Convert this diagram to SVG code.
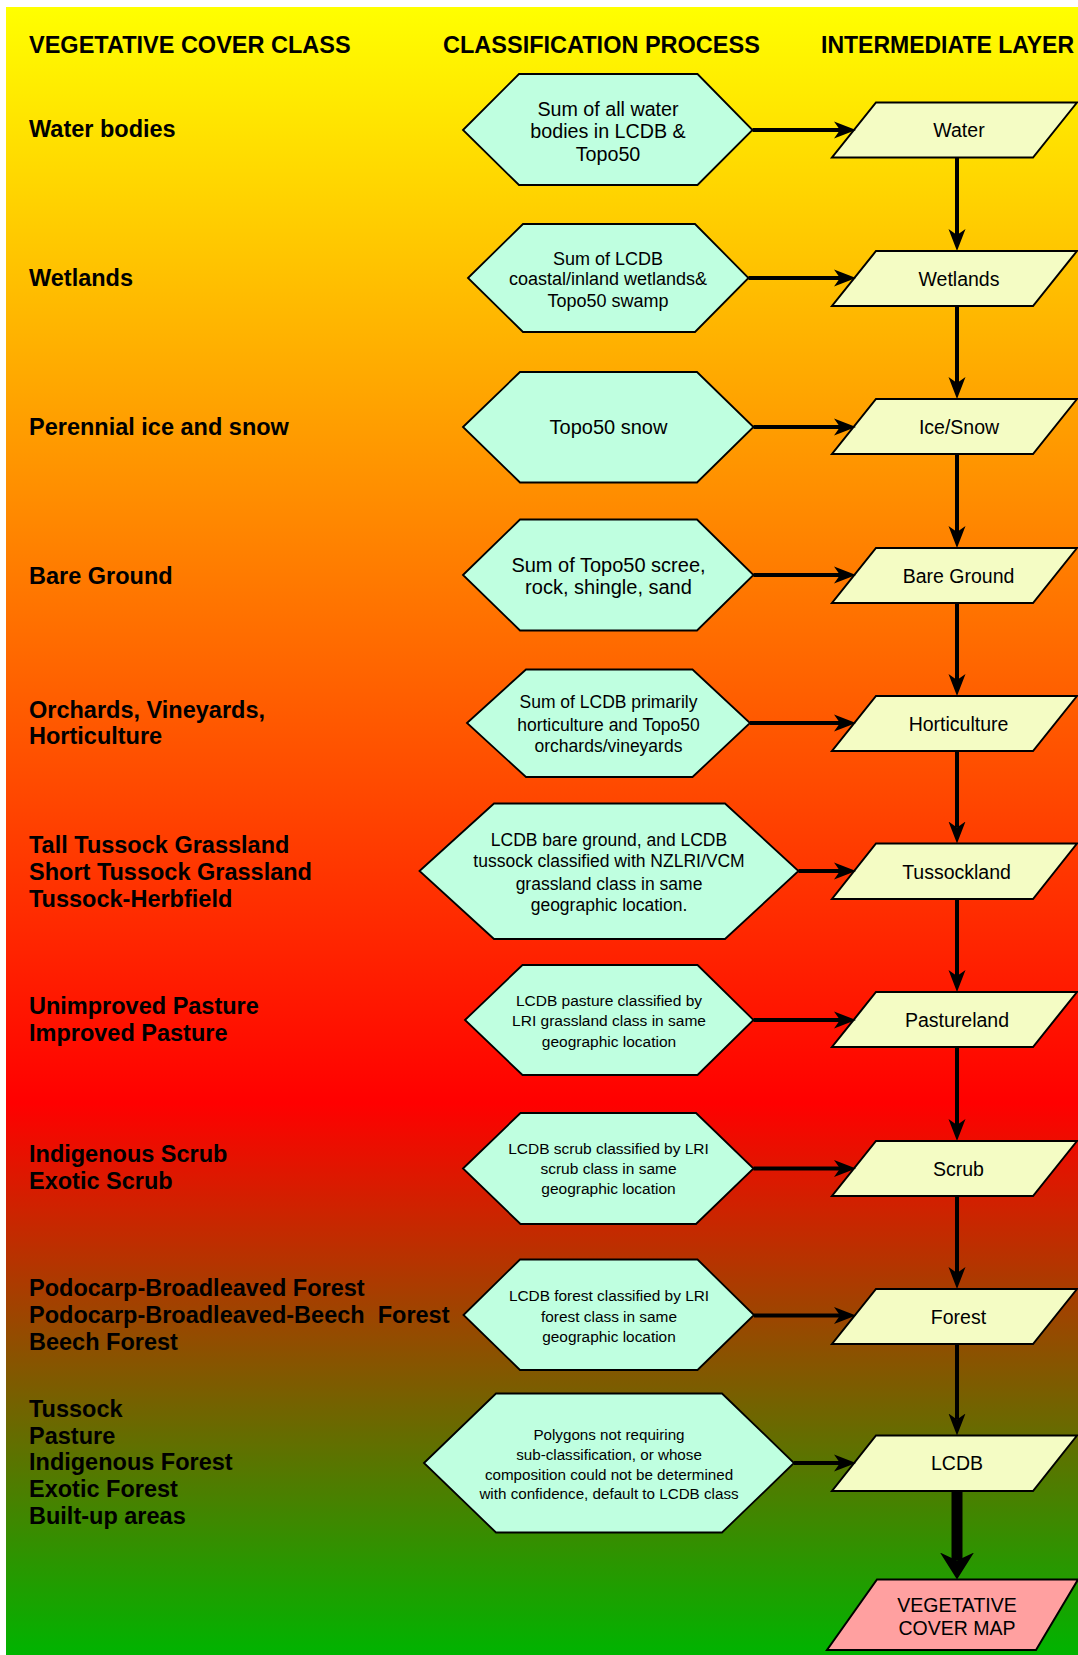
<svg xmlns="http://www.w3.org/2000/svg" width="1078" height="1655" viewBox="0 0 1078 1655">
<defs>
<linearGradient id="bg" x1="0" y1="7" x2="0" y2="1655" gradientUnits="userSpaceOnUse">
<stop offset="0" stop-color="#FFFF00"/>
<stop offset="0.665" stop-color="#FF0000"/>
<stop offset="1" stop-color="#00B400"/>
</linearGradient>
<marker id="ah" markerUnits="userSpaceOnUse" markerWidth="24" markerHeight="20" viewBox="0 0 24 20" refX="6" refY="10" orient="auto">
<path d="M0,1.5 L22,10 L0,18.5 L6,10 Z" fill="#000"/>
</marker>
<marker id="bh" markerUnits="userSpaceOnUse" markerWidth="28" markerHeight="36" viewBox="0 0 28 36" refX="8" refY="18" orient="auto">
<path d="M0,1 L27,18 L0,35 L8,18 Z" fill="#000"/>
</marker>
<style>
.hdr,.lbl{font-family:"Liberation Sans",Arial,sans-serif;font-weight:bold;font-size:23.5px;fill:#000}
.hex{fill:#BFFFE0;stroke:#000;stroke-width:1.8}
.par{fill:#F4FCC4;stroke:#000;stroke-width:2}
.out{fill:#FFA0A0;stroke:#000;stroke-width:2}
.ht,.pt{font-family:"Liberation Sans",Arial,sans-serif;text-anchor:middle;fill:#000}
.pt{font-size:19.5px}
.con{stroke:#000;stroke-width:4;fill:none;marker-end:url(#ah)}
.big{stroke:#000;stroke-width:11;fill:none;marker-end:url(#bh)}
</style>
</defs>
<rect x="0" y="0" width="1078" height="1655" fill="#FFFFFF"/>
<rect x="6" y="7" width="1072" height="1648" fill="url(#bg)"/>

<g id="headers">
<text class="hdr" x="29" y="53">VEGETATIVE COVER CLASS</text>
<text class="hdr" x="443" y="53">CLASSIFICATION PROCESS</text>
<text class="hdr" x="821" y="53" style="font-size:23px">INTERMEDIATE LAYER</text>
</g>

<g id="classes">
<text class="lbl" x="29" y="137">Water bodies</text>
<text class="lbl" x="29" y="286">Wetlands</text>
<text class="lbl" x="29" y="435">Perennial ice and snow</text>
<text class="lbl" x="29" y="583.5">Bare Ground</text>
<text class="lbl" x="29" y="717.5">Orchards, Vineyards,<tspan x="29" y="744">Horticulture</tspan></text>
<text class="lbl" x="29" y="853">Tall Tussock Grassland<tspan x="29" y="880">Short Tussock Grassland</tspan><tspan x="29" y="907">Tussock-Herbfield</tspan></text>
<text class="lbl" x="29" y="1014">Unimproved Pasture<tspan x="29" y="1040.5">Improved Pasture</tspan></text>
<text class="lbl" x="29" y="1162">Indigenous Scrub<tspan x="29" y="1188.5">Exotic Scrub</tspan></text>
<text class="lbl" x="29" y="1296" xml:space="preserve">Podocarp-Broadleaved Forest<tspan x="29" y="1323">Podocarp-Broadleaved-Beech  Forest</tspan><tspan x="29" y="1350">Beech Forest</tspan></text>
<text class="lbl" x="29" y="1417">Tussock<tspan x="29" y="1443.5">Pasture</tspan><tspan x="29" y="1470">Indigenous Forest</tspan><tspan x="29" y="1497">Exotic Forest</tspan><tspan x="29" y="1524">Built-up areas</tspan></text>
</g>

<g id="proc-water">
<polygon class="hex" points="463,130 519,74 697.5,74 752.5,130 697.5,185 519,185"/>
<text class="ht" font-size="19.7" x="608" y="115.5">Sum of all water<tspan x="608" y="138">bodies in LCDB &amp;</tspan><tspan x="608" y="160.5">Topo50</tspan></text>
</g>
<g id="proc-wetlands">
<polygon class="hex" points="468,278 523,224 695,224 748.5,278 695,332 523,332"/>
<text class="ht" font-size="18" x="608" y="264.5">Sum of LCDB<tspan x="608" y="285">coastal/inland wetlands&amp;</tspan><tspan x="608" y="306.5">Topo50 swamp</tspan></text>
</g>
<g id="proc-ice">
<polygon class="hex" points="463,427 520,372 697,372 753.5,427 697,482.5 520,482.5"/>
<text class="ht" font-size="20" x="608.5" y="434">Topo50 snow</text>
</g>
<g id="proc-bare">
<polygon class="hex" points="463,575 520,519.5 697,519.5 753.5,575 697,630.5 520,630.5"/>
<text class="ht" font-size="20" x="608.5" y="572">Sum of Topo50 scree,<tspan x="608.5" y="594">rock, shingle, sand</tspan></text>
</g>
<g id="proc-horti">
<polygon class="hex" points="467,723 526,669.5 692.5,669.5 750,723 692.5,777 526,777"/>
<text class="ht" font-size="17.5" x="608.5" y="708">Sum of LCDB primarily<tspan x="608.5" y="730.5">horticulture and Topo50</tspan><tspan x="608.5" y="751.5">orchards/vineyards</tspan></text>
</g>
<g id="proc-tussock">
<polygon class="hex" points="419.5,871 494,803.5 725,803.5 798.5,871 725,939 494,939"/>
<text class="ht" font-size="17.5" x="609" y="846">LCDB bare ground, and LCDB<tspan x="609" y="867">tussock classified with NZLRI/VCM</tspan><tspan x="609" y="889.5">grassland class in same</tspan><tspan x="609" y="910.5">geographic location.</tspan></text>
</g>
<g id="proc-pasture">
<polygon class="hex" points="465,1020 522.5,965 697.5,965 753.5,1020 697.5,1075 522.5,1075"/>
<text class="ht" font-size="15.5" x="609" y="1006">LCDB pasture classified by<tspan x="609" y="1026">LRI grassland class in same</tspan><tspan x="609" y="1046.5">geographic location</tspan></text>
</g>
<g id="proc-scrub">
<polygon class="hex" points="463,1168.5 520.5,1113 696,1113 753.5,1168.5 696,1224 520.5,1224"/>
<text class="ht" font-size="15.5" x="608.5" y="1154">LCDB scrub classified by LRI<tspan x="608.5" y="1174">scrub class in same</tspan><tspan x="608.5" y="1193.5">geographic location</tspan></text>
</g>
<g id="proc-forest">
<polygon class="hex" points="463.5,1315 520,1259.5 697.5,1259.5 754,1315 697.5,1370 520,1370"/>
<text class="ht" font-size="15.4" x="609" y="1301">LCDB forest classified by LRI<tspan x="609" y="1321.5">forest class in same</tspan><tspan x="609" y="1341.5">geographic location</tspan></text>
</g>
<g id="proc-lcdb">
<polygon class="hex" points="424,1463 496,1393.5 722,1393.5 794,1463 722,1532.5 496,1532.5"/>
<text class="ht" font-size="15.2" x="609" y="1439.5">Polygons not requiring<tspan x="609" y="1459.5">sub-classification, or whose</tspan><tspan x="609" y="1479.5">composition could not be determined</tspan><tspan x="609" y="1499">with confidence, default to LCDB class</tspan></text>
</g>

<g id="layer-water"><polygon class="par" points="876,102.5 1077,102.5 1033,157.5 832,157.5"/><text class="pt" x="959" y="137">Water</text></g>
<g id="layer-wetlands"><polygon class="par" points="876,251 1077,251 1033,306 832,306"/><text class="pt" x="959" y="285.5">Wetlands</text></g>
<g id="layer-ice"><polygon class="par" points="876,399 1077,399 1033,454 832,454"/><text class="pt" x="959" y="433.5">Ice/Snow</text></g>
<g id="layer-bare"><polygon class="par" points="876,548 1077,548 1033,603 832,603"/><text class="pt" x="958.5" y="582.5">Bare Ground</text></g>
<g id="layer-horti"><polygon class="par" points="876,696 1077,696 1033,751 832,751"/><text class="pt" x="958.5" y="730.5">Horticulture</text></g>
<g id="layer-tussock"><polygon class="par" points="876,843.5 1077,843.5 1033,899 832,899"/><text class="pt" x="956.5" y="878.5">Tussockland</text></g>
<g id="layer-pasture"><polygon class="par" points="876,992 1077,992 1033,1047 832,1047"/><text class="pt" x="957" y="1026.5">Pastureland</text></g>
<g id="layer-scrub"><polygon class="par" points="876,1141 1077,1141 1033,1196 832,1196"/><text class="pt" x="958.5" y="1175.5">Scrub</text></g>
<g id="layer-forest"><polygon class="par" points="876,1289 1077,1289 1033,1344 832,1344"/><text class="pt" x="958.5" y="1323.5">Forest</text></g>
<g id="layer-lcdb"><polygon class="par" points="876,1435.5 1077,1435.5 1033,1491 832,1491"/><text class="pt" x="957" y="1470">LCDB</text></g>
<g id="vegetative-cover-map"><polygon class="out" points="877,1579.5 1078,1579.5 1036,1650 827,1650"/><text class="pt" font-size="19" x="957" y="1611.5">VEGETATIVE<tspan x="957" y="1635">COVER MAP</tspan></text></g>

<g id="connectors">
<line class="con" x1="752.5" y1="130" x2="840" y2="130"/>
<line class="con" x1="748.5" y1="278" x2="840" y2="278"/>
<line class="con" x1="753.5" y1="427" x2="840" y2="427"/>
<line class="con" x1="753.5" y1="575" x2="840" y2="575"/>
<line class="con" x1="750" y1="723" x2="840" y2="723"/>
<line class="con" x1="798.5" y1="871" x2="840" y2="871"/>
<line class="con" x1="753.5" y1="1020" x2="840" y2="1020"/>
<line class="con" x1="753.5" y1="1168.5" x2="840" y2="1168.5"/>
<line class="con" x1="754" y1="1315.5" x2="840" y2="1315.5"/>
<line class="con" x1="794" y1="1463" x2="840" y2="1463"/>
<line class="con" x1="957" y1="157.5" x2="957" y2="235"/>
<line class="con" x1="957" y1="306" x2="957" y2="383"/>
<line class="con" x1="957" y1="454" x2="957" y2="532"/>
<line class="con" x1="957" y1="603" x2="957" y2="680"/>
<line class="con" x1="957" y1="751" x2="957" y2="827.5"/>
<line class="con" x1="957" y1="899" x2="957" y2="976"/>
<line class="con" x1="957" y1="1047" x2="957" y2="1125"/>
<line class="con" x1="957" y1="1196" x2="957" y2="1273"/>
<line class="con" x1="957" y1="1344" x2="957" y2="1419.5"/>
<line class="big" x1="957" y1="1491" x2="957" y2="1560.5"/>
</g>
</svg>
